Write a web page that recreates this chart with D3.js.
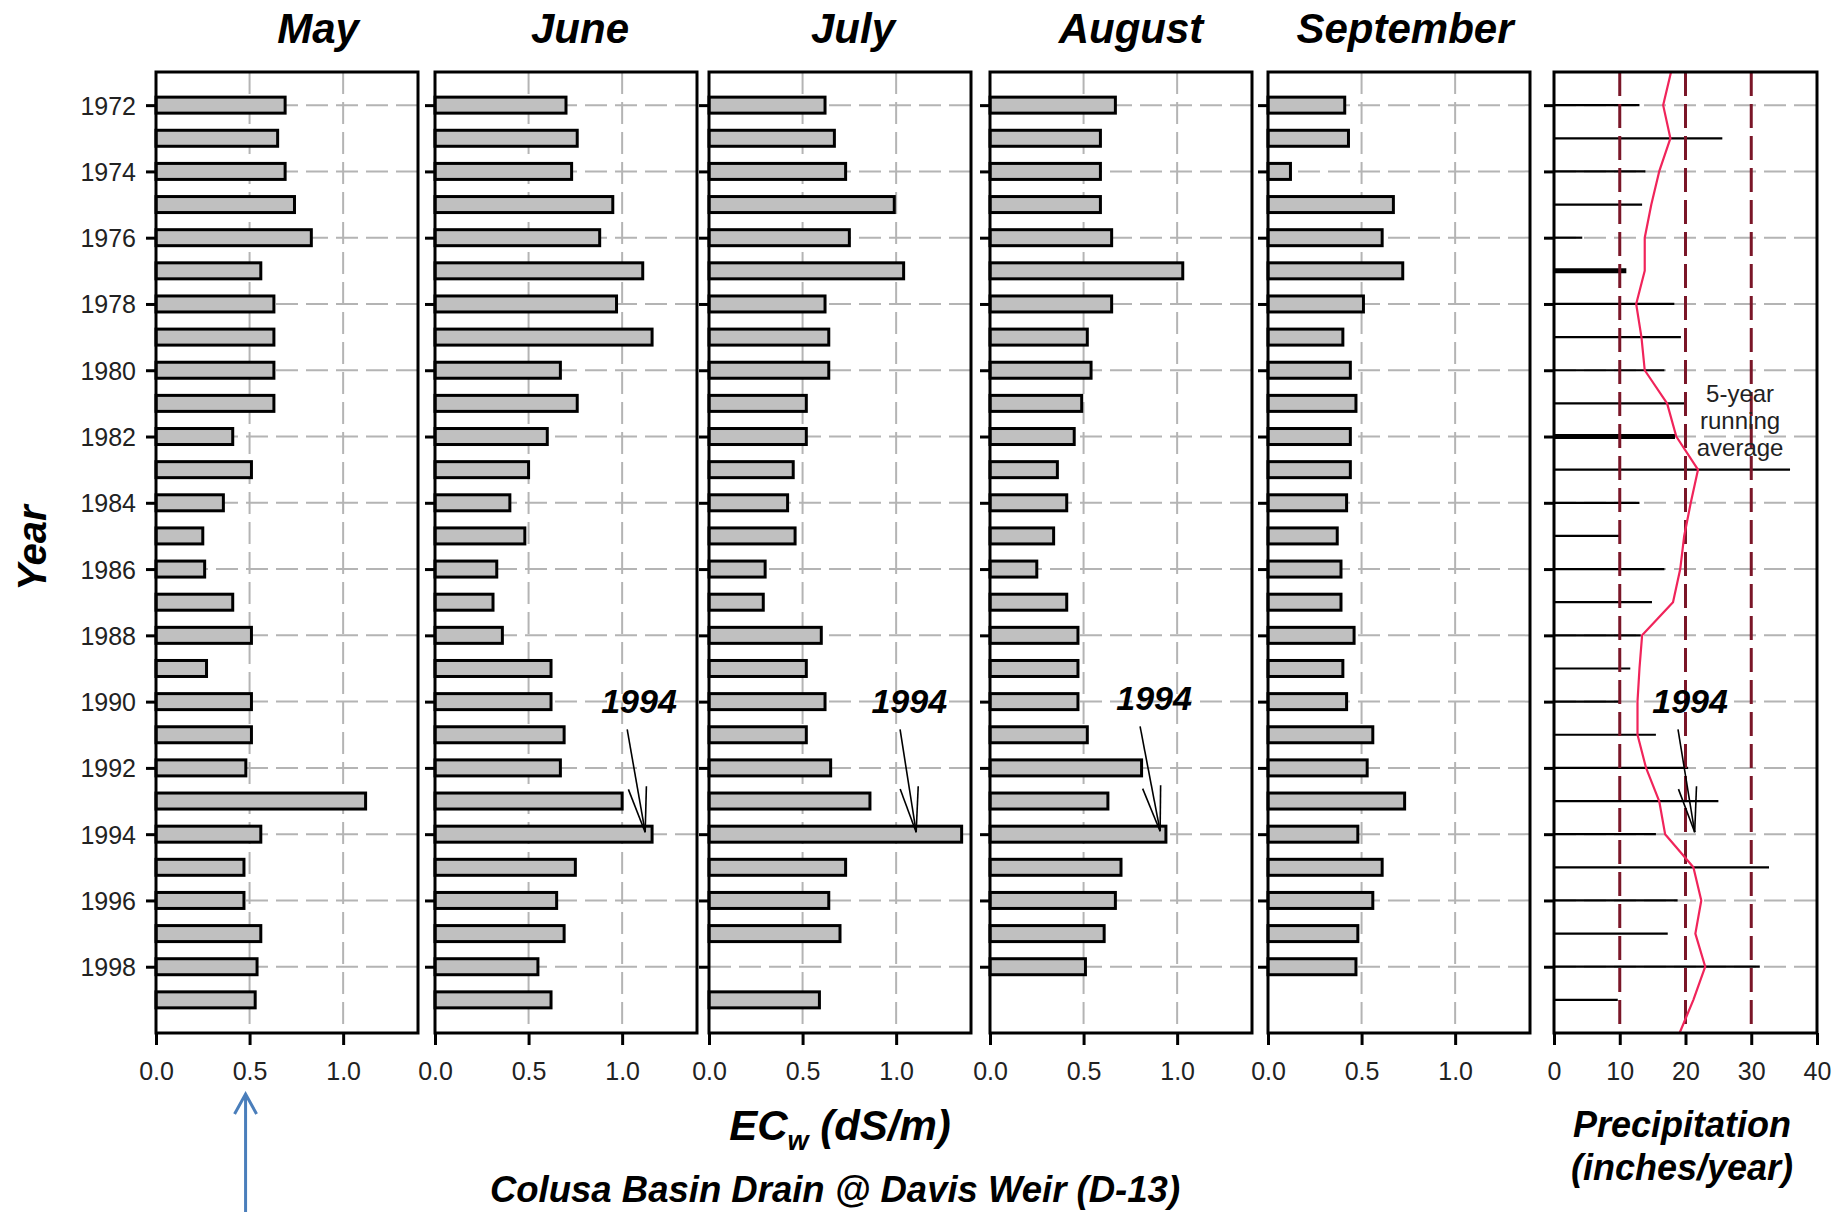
<!DOCTYPE html>
<html>
<head>
<meta charset="utf-8">
<script src="https://cdn.jsdelivr.net/npm/d3@7"></script>
<style>
  body { margin: 0; background: #fff; }
  text { font-family: "Liberation Sans", Arial, sans-serif; }
  .tick text { fill: #222; font-size: 25px; }
  .tick line { stroke: #000; stroke-width: 3; }
  .bold { font-weight: bold; font-style: italic; fill: #000; }
</style>
</head>
<body>
<div id="chart"></div>
<script>
// the data
var years = [1972, 1973, 1974, 1975, 1976, 1977, 1978, 1979, 1980, 1981,
             1982, 1983, 1984, 1985, 1986, 1987, 1988, 1989, 1990, 1991,
             1992, 1993, 1994, 1995, 1996, 1997, 1998, 1999];

var may = [0.69, 0.65, 0.69, 0.74, 0.83, 0.56, 0.63, 0.63, 0.63, 0.63,
           0.41, 0.51, 0.36, 0.25, 0.26, 0.41, 0.51, 0.27, 0.51, 0.51,
           0.48, 1.12, 0.56, 0.47, 0.47, 0.56, 0.54, 0.53];
var june = [0.70, 0.76, 0.73, 0.95, 0.88, 1.11, 0.97, 1.16, 0.67, 0.76,
            0.60, 0.50, 0.40, 0.48, 0.33, 0.31, 0.36, 0.62, 0.62, 0.69,
            0.67, 1.00, 1.16, 0.75, 0.65, 0.69, 0.55, 0.62];
var july = [0.62, 0.67, 0.73, 0.99, 0.75, 1.04, 0.62, 0.64, 0.64, 0.52,
            0.52, 0.45, 0.42, 0.46, 0.30, 0.29, 0.60, 0.52, 0.62, 0.52,
            0.65, 0.86, 1.35, 0.73, 0.64, 0.70, null, 0.59];
var august = [0.67, 0.59, 0.59, 0.59, 0.65, 1.03, 0.65, 0.52, 0.54, 0.49,
              0.45, 0.36, 0.41, 0.34, 0.25, 0.41, 0.47, 0.47, 0.47, 0.52,
              0.81, 0.63, 0.94, 0.70, 0.67, 0.61, 0.51, null];
var september = [0.41, 0.43, 0.12, 0.67, 0.61, 0.72, 0.51, 0.40, 0.44, 0.47,
                 0.44, 0.44, 0.42, 0.37, 0.39, 0.39, 0.46, 0.40, 0.42, 0.56,
                 0.53, 0.73, 0.48, 0.61, 0.56, 0.48, 0.47, null];

// precipitation, inches/year
var precip = [13.0, 25.6, 13.9, 13.4, 4.3, 11.0, 18.3, 19.3, 16.8, 20.1,
              18.4, 35.9, 13.0, 10.0, 16.8, 14.9, 13.2, 11.6, 10.0, 15.5,
              20.4, 25.0, 15.5, 32.7, 18.8, 17.3, 31.3, 9.7];

// 5-year running average (runs edge to edge of the panel)
var avgYears = [1971, 1972, 1973, 1974, 1975, 1976, 1977, 1978, 1979, 1980,
                1981, 1982, 1983, 1984, 1985, 1986, 1987, 1988, 1989, 1990,
                1991, 1992, 1993, 1994, 1995, 1996, 1997, 1998, 1999, 2000];
var runningAvg = [17.8, 16.6, 17.7, 16.0, 14.8, 13.8, 13.8, 12.5, 13.3, 13.8,
                  17.2, 18.6, 21.9, 20.8, 19.8, 19.2, 18.1, 13.4, 13.0, 12.7,
                  12.7, 14.0, 16.0, 16.9, 21.2, 22.4, 21.5, 23.0, 21.2, 19.1];

var monthNames = ["May", "June", "July", "August", "September"];
var evenYears = [1972, 1974, 1976, 1978, 1980, 1982, 1984, 1986, 1988, 1990, 1992, 1994, 1996, 1998];
var ecTicks = [0, 0.5, 1.0];
var precipTicks = [0, 10, 20, 30, 40];
var thickYears = [1977, 1982];   // these two look heavier in the scan

// layout
var plotTop = 72, plotBottom = 1033;
var ecLeft = [156, 435, 709, 990, 1268], ecWidth = 262;
var titleX = [318, 580, 853, 1131, 1405];
var precipLeft = 1554, precipWidth = 263;
var barH = 16;

var svg = d3.select("#chart")
  .append("svg")
    .attr("width", 1839)
    .attr("height", 1212)
    .style("background", "#fff");

var y = d3.scaleLinear().domain([1971, 2000]).range([plotTop, plotBottom]);

var series = [may, june, july, august, september];

// arrows pointing at 1994, in data units of each panel
var notes = [
  {panel: 1, text: [1.09, 1990.35], tail: [1.027, 1990.84], tip: [1.123, 1993.94]},
  {panel: 2, text: [1.07, 1990.35], tail: [1.021, 1990.84], tip: [1.107, 1993.94]},
  {panel: 3, text: [0.877, 1990.26], tail: [0.802, 1990.75], tip: [0.909, 1993.91]}
];
var precipNote = {text: [20.7, 1990.35], tail: [18.86, 1990.84], tip: [21.4, 1993.94]};

function drawArrow(g, x, n) {
  var x1 = x(n.tail[0]), y1 = y(n.tail[1]), x2 = x(n.tip[0]), y2 = y(n.tip[1]);
  g.append("text")
    .attr("class", "bold")
    .attr("x", x(n.text[0])).attr("y", y(n.text[1]))
    .attr("text-anchor", "middle")
    .attr("font-size", "34px")
    .text("1994");
  g.append("line")
    .attr("x1", x1).attr("y1", y1).attr("x2", x2).attr("y2", y2)
    .attr("stroke", "#000").attr("stroke-width", 1.6);
  var ang = Math.atan2(y1 - y2, x1 - x2), len = 46, spread = 0.2;
  [-spread, spread].forEach(function(s) {
    g.append("line")
      .attr("x1", x2).attr("y1", y2)
      .attr("x2", x2 + len * Math.cos(ang + s)).attr("y2", y2 + len * Math.sin(ang + s))
      .attr("stroke", "#000").attr("stroke-width", 1.6);
  });
}

function gridLines(g, w) {
  g.append("g").selectAll("line")
    .data(evenYears).enter().append("line")
      .attr("x1", 0).attr("x2", w)
      .attr("y1", function(d) { return y(d); })
      .attr("y2", function(d) { return y(d); })
      .attr("stroke", "#b4b4b4").attr("stroke-width", 2)
      .attr("stroke-dasharray", "22,8");
}

function leftAxis(g, labels) {
  var ax = g.append("g")
    .call(d3.axisLeft(y).tickValues(evenYears).tickSize(10).tickPadding(10)
      .tickFormat(labels ? d3.format("d") : ""));
  ax.select(".domain").remove();
  ax.selectAll(".tick text").attr("dy", "0.36em");
}

// the five EC panels
series.forEach(function(vals, i) {
  var g = svg.append("g").attr("transform", "translate(" + ecLeft[i] + ",0)");
  var x = d3.scaleLinear().domain([0, 1.4]).range([0, ecWidth]);

  //Draw grid
  gridLines(g, ecWidth);
  g.append("g").selectAll("line")
    .data([0.5, 1.0]).enter().append("line")
      .attr("x1", function(d) { return x(d); })
      .attr("x2", function(d) { return x(d); })
      .attr("y1", plotTop).attr("y2", plotBottom)
      .attr("stroke", "#b4b4b4").attr("stroke-width", 2)
      .attr("stroke-dasharray", "22,8");

  // bars
  var rows = years.map(function(yr, k) { return {year: yr, v: vals[k]}; })
    .filter(function(d) { return d.v !== null; });
  g.selectAll("rect.bar")
    .data(rows).enter().append("rect")
      .attr("class", "bar")
      .attr("x", 0)
      .attr("y", function(d) { return y(d.year) - barH / 2; })
      .attr("width", function(d) { return x(d.v); })
      .attr("height", barH)
      .style("fill", "#c0c0c0")
      .style("stroke", "#000")
      .style("stroke-width", 3);

  // frame
  g.append("rect")
    .attr("x", 0).attr("y", plotTop)
    .attr("width", ecWidth).attr("height", plotBottom - plotTop)
    .attr("fill", "none").attr("stroke", "#000").attr("stroke-width", 3);

  // axes
  var bx = g.append("g")
    .attr("transform", "translate(0," + plotBottom + ")")
    .call(d3.axisBottom(x).tickValues(ecTicks).tickSize(12).tickPadding(17).tickFormat(d3.format(".1f")));
  bx.select(".domain").remove();
  leftAxis(g, i === 0);

  // month title
  svg.append("text")
    .attr("class", "bold")
    .attr("x", titleX[i]).attr("y", 43)
    .attr("text-anchor", "middle")
    .attr("font-size", "42px")
    .text(monthNames[i]);

  notes.filter(function(n) { return n.panel === i; })
    .forEach(function(n) { drawArrow(g, x, n); });
});

// precipitation panel
var gp = svg.append("g").attr("transform", "translate(" + precipLeft + ",0)");
var xp = d3.scaleLinear().domain([0, 40]).range([0, precipWidth]);

gridLines(gp, precipWidth);

gp.append("g").selectAll("line")
  .data(years.map(function(yr, k) { return {year: yr, v: precip[k]}; }))
  .enter().append("line")
    .attr("x1", 0)
    .attr("x2", function(d) { return xp(d.v); })
    .attr("y1", function(d) { return y(d.year); })
    .attr("y2", function(d) { return y(d.year); })
    .attr("stroke", "#000")
    .attr("stroke-width", function(d) { return thickYears.indexOf(d.year) >= 0 ? 5 : 2.2; });

gp.append("g").selectAll("line")
  .data([10, 20, 30]).enter().append("line")
    .attr("x1", function(d) { return xp(d); })
    .attr("x2", function(d) { return xp(d); })
    .attr("y1", plotTop).attr("y2", plotBottom)
    .attr("stroke", "#7a1628").attr("stroke-width", 3)
    .attr("stroke-dasharray", "24,8");

gp.append("path")
  .datum(avgYears.map(function(yr, k) { return [yr, runningAvg[k]]; }))
  .attr("fill", "none")
  .attr("stroke", "#f0245a")
  .attr("stroke-width", 2.2)
  .attr("stroke-linejoin", "round")
  .attr("d", d3.line()
    .x(function(d) { return xp(d[1]); })
    .y(function(d) { return y(d[0]); }));

gp.append("rect")
  .attr("x", 0).attr("y", plotTop)
  .attr("width", precipWidth).attr("height", plotBottom - plotTop)
  .attr("fill", "none").attr("stroke", "#000").attr("stroke-width", 3);

var px = gp.append("g")
  .attr("transform", "translate(0," + plotBottom + ")")
  .call(d3.axisBottom(xp).tickValues(precipTicks).tickSize(12).tickPadding(17).tickFormat(d3.format("d")));
px.select(".domain").remove();
leftAxis(gp, false);

var avgLabel = gp.append("text")
  .attr("x", xp(28.3))
  .attr("text-anchor", "middle")
  .attr("font-size", "24px")
  .attr("fill", "#222");
["5-year", "running", "average"].forEach(function(t, k) {
  avgLabel.append("tspan").attr("x", xp(28.3)).attr("y", 402 + k * 27).text(t);
});

drawArrow(gp, xp, precipNote);

//y Axis Title
svg.append("text")
   .attr("class", "bold")
   .attr("transform", "translate(46,548) rotate(-90)")
   .attr("text-anchor", "middle")
   .attr("font-size", "40px")
   .text("Year");

//x Axis Title
var ec = svg.append("text")
   .attr("class", "bold")
   .attr("x", 840).attr("y", 1140)
   .attr("text-anchor", "middle")
   .attr("font-size", "42px");
ec.append("tspan").text("EC");
ec.append("tspan").attr("font-size", "27px").attr("dy", 10).text("w");
ec.append("tspan").attr("dy", -10).text(" (dS/m)");

svg.append("text")
   .attr("class", "bold")
   .attr("x", 835).attr("y", 1202)
   .attr("text-anchor", "middle")
   .attr("font-size", "36.5px")
   .text("Colusa Basin Drain @ Davis Weir (D-13)");

svg.append("text")
   .attr("class", "bold")
   .attr("x", 1682).attr("y", 1137)
   .attr("text-anchor", "middle")
   .attr("font-size", "36px")
   .text("Precipitation");
svg.append("text")
   .attr("class", "bold")
   .attr("x", 1682).attr("y", 1180)
   .attr("text-anchor", "middle")
   .attr("font-size", "36px")
   .text("(inches/year)");

// blue pointer under the May 0.5 tick
var ax0 = ecLeft[0] + d3.scaleLinear().domain([0, 1.4]).range([0, ecWidth])(0.5) - 4;
svg.append("path")
  .attr("d", "M" + ax0 + ",1212 L" + ax0 + ",1094 M" + (ax0 - 11) + ",1114 L" + ax0 + ",1094 L" + (ax0 + 11) + ",1114")
  .attr("fill", "none")
  .attr("stroke", "#4a7ebb")
  .attr("stroke-width", 3);
</script>
</body>
</html>
